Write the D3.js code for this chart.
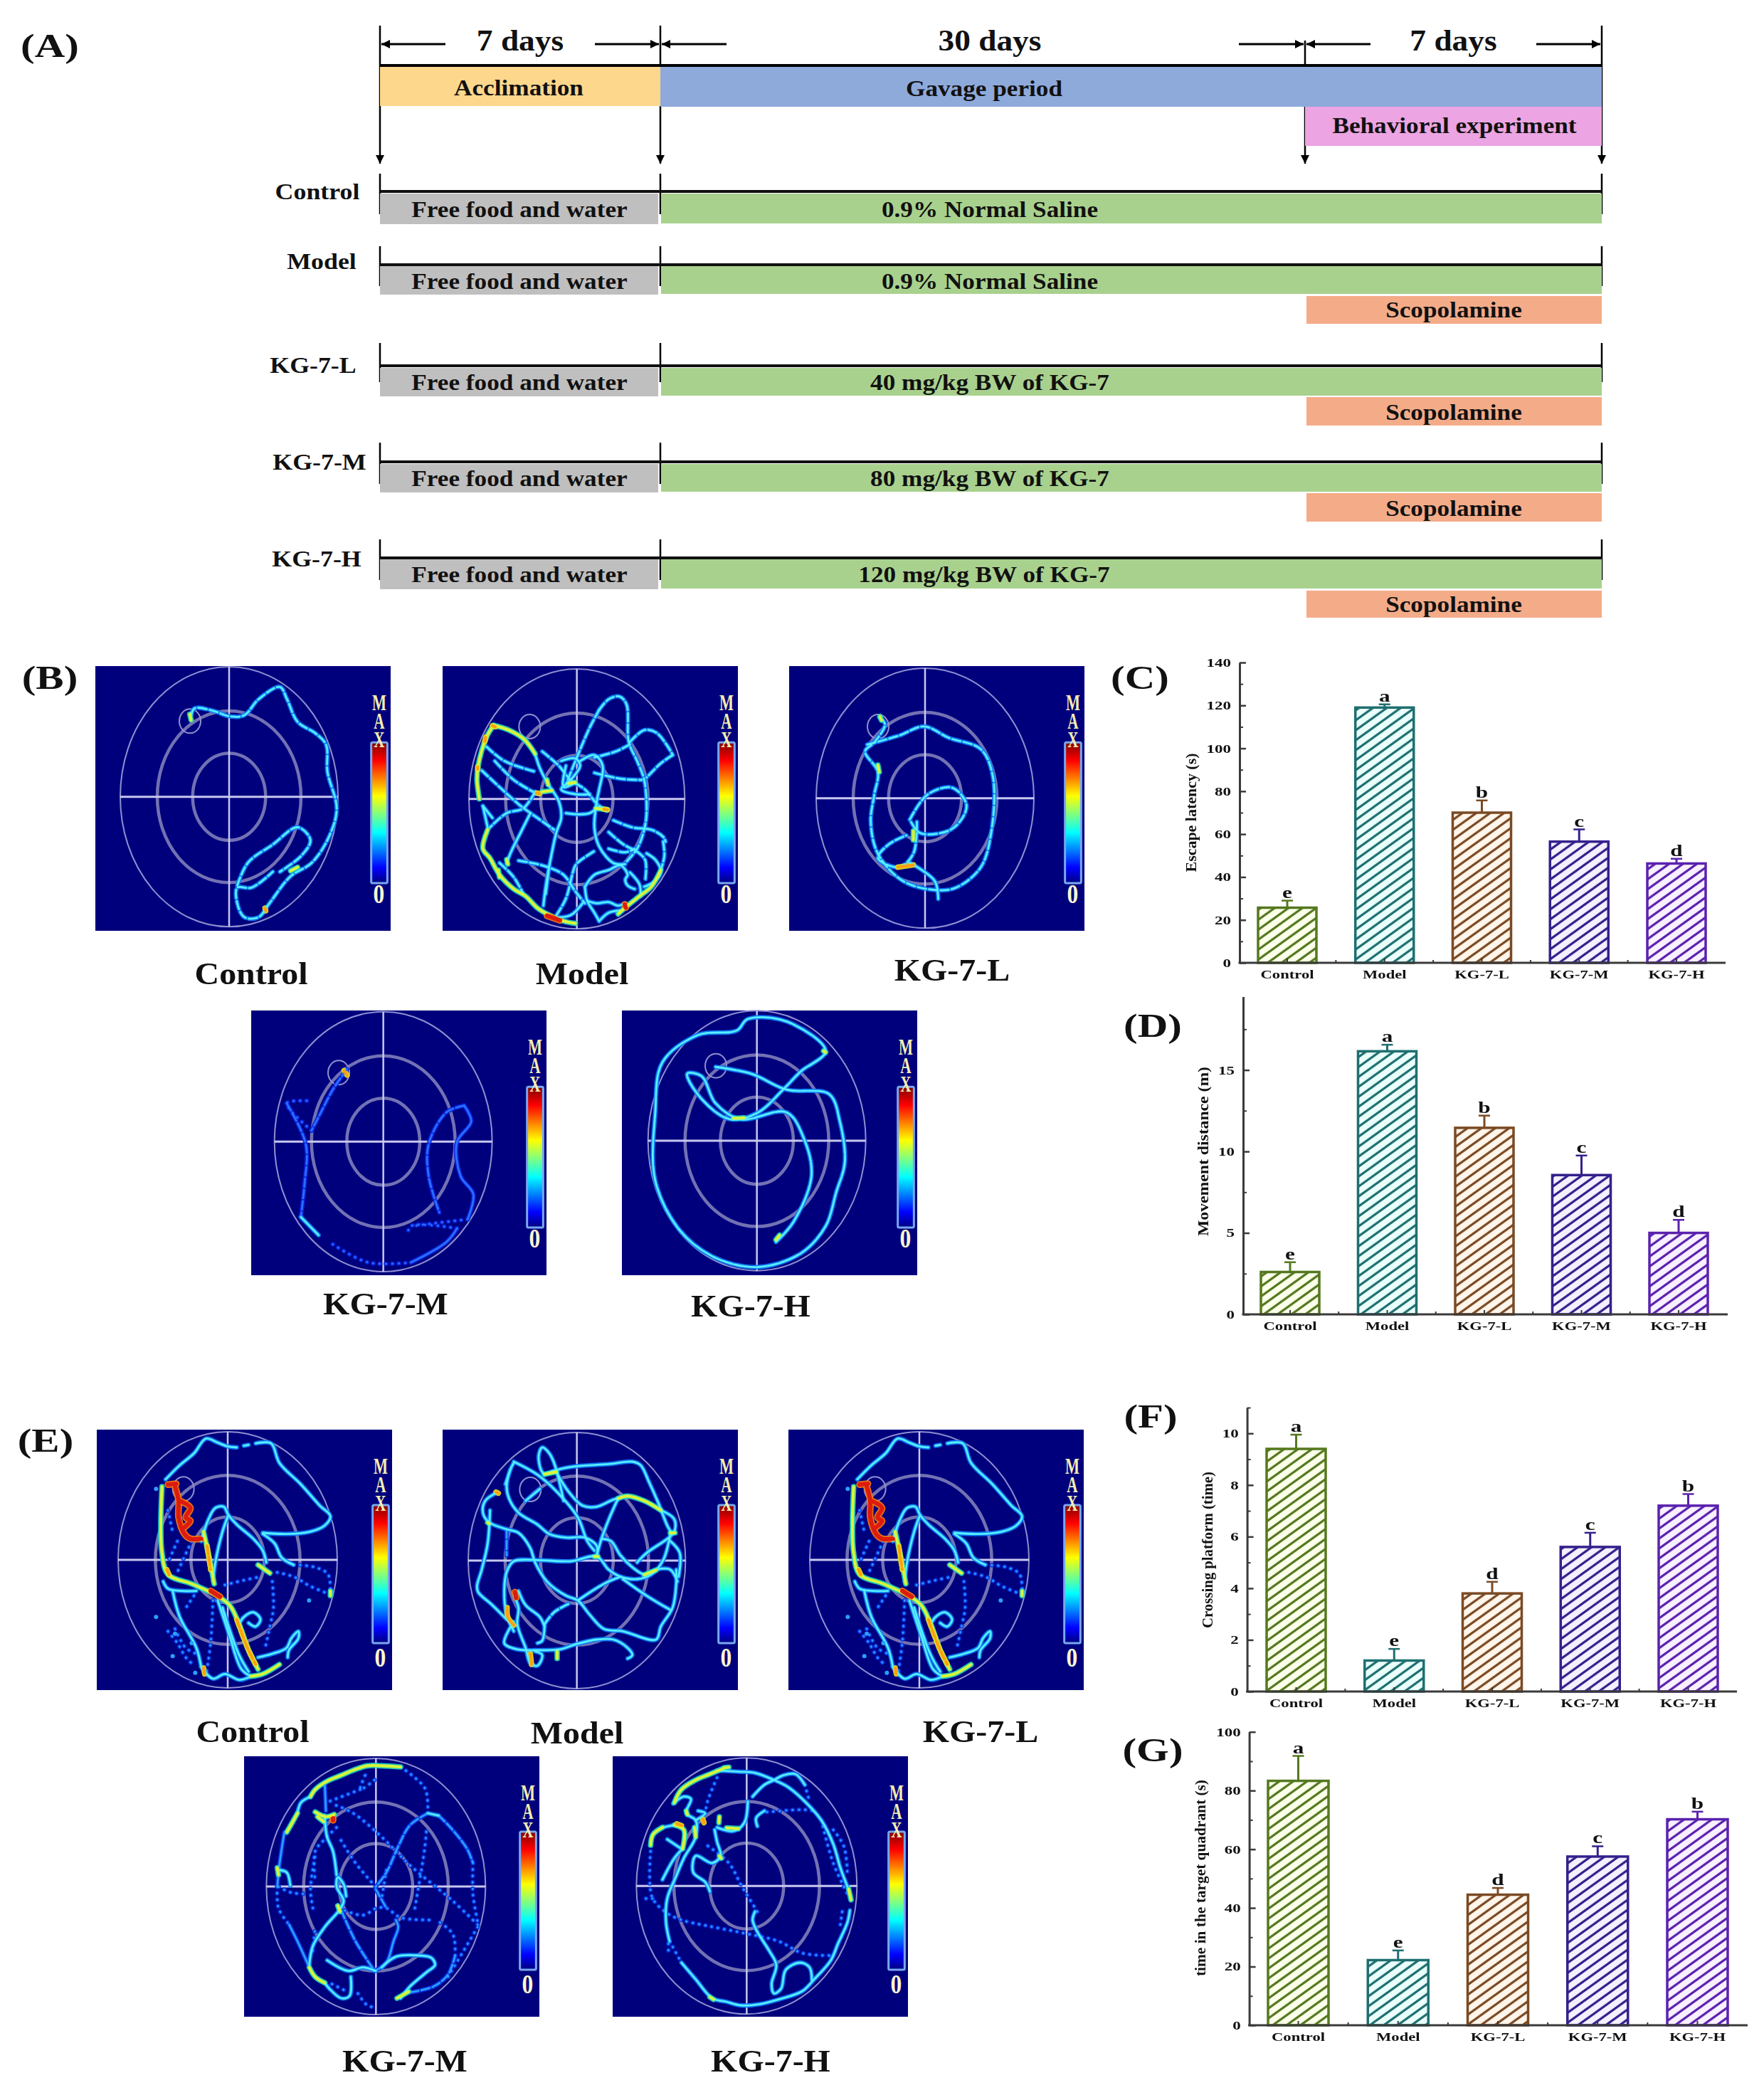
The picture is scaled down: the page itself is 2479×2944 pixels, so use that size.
<!DOCTYPE html>
<html><head><meta charset="utf-8">
<script src="https://cdn.jsdelivr.net/npm/d3@7/dist/d3.min.js"></script>
<style>html,body{margin:0;padding:0;background:#fff}svg{display:block}text{font-family:"Liberation Serif",serif;font-weight:bold;fill:#111}</style>
</head><body><div id="chart"></div>
<script>
// ---------- bar chart data ----------
const groups = ["Control","Model","KG-7-L","KG-7-M","KG-7-H"];
const escapeLatency = [25.7,119,70,56.5,46.3];
const escapeLatencyErr = [29,120.5,75.7,62.2,48.5];
const escapeLetters = ["e","a","b","c","d"];
const moveDistance = [2.6,16.15,11.45,8.55,5.0];
const moveDistanceErr = [3.2,16.55,12.2,9.75,5.8];
const moveLetters = ["e","a","b","c","d"];
const crossing = [9.4,1.2,3.8,5.6,7.2];
const crossingErr = [9.95,1.65,4.25,6.15,7.65];
const crossLetters = ["a","e","d","c","b"];
const quadrant = [83.3,22.2,44.5,57.5,70.2];
const quadrantErr = [91.8,25.5,46.8,61,72.8];
const quadLetters = ["a","e","d","c","b"];
const barColors = ["#55781f","#1f6f70","#7a4a24","#35208c","#5a22ae"];

// ---------- timeline data ----------
const milestones = [0,7,37,44];
const spans = [[0,7,"7 days"],[7,37,"30 days"],[37,44,"7 days"]];
const rowNames = ["Control","Model","KG-7-L","KG-7-M","KG-7-H"];
const rowTreat = ["0.9% Normal Saline","0.9% Normal Saline","40 mg/kg BW of KG-7","80 mg/kg BW of KG-7","120 mg/kg BW of KG-7"];
const rowScop = [false,true,true,true,true];

// ---------- swim track readings: [heat level, dash kind, points] ----------
const trackB1 = [
 [1,1,[[270,165],[275,150],[300,155],[325,168],[345,165],[365,130],[395,103],[405,130],[420,180],[445,205],[460,230],[462,290],[475,370],[465,430],[440,490],[410,520],[380,580],[365,610],[345,610],[335,580],[335,545],[355,545],[385,510]]],
 [1,1,[[335,540],[350,490],[385,450],[420,412],[438,440],[425,475],[395,510]]],
 [2,0,[[268,163],[270,176]]],[2.5,0,[[374,590],[375,596]]],[2,0,[[410,508],[420,500]]]];
const trackB2 = [
 [2,0,[[215,250],[280,270],[345,310],[390,370]]],
 [2,0,[[215,250],[185,300],[150,420],[145,480],[155,560]]],
 [1,0,[[390,370],[410,430],[440,490],[490,570],[500,640],[480,700],[460,790],[435,930],[425,1010]]],
 [1,1,[[660,185],[700,140],[745,128],[775,160],[785,320],[820,400],[850,480],[860,620],[850,690],[820,770],[770,830]]],
 [1,1,[[660,185],[620,260],[560,400],[520,500]]],
 [1,1,[[790,320],[850,270],[900,280],[950,340],[970,375]]],[1,1,[[970,375],[920,410],[860,470]]],
 [1,1,[[790,330],[730,360],[640,385]]],
 [1,0,[[580,400],[640,375],[675,420],[660,520],[650,570],[640,680],[660,760],[720,830],[770,835]]],
 [1,1,[[640,450],[750,475],[840,480]]],
 [1,1,[[420,360],[490,420],[540,480],[600,520],[650,580],[690,610]]],
 [1,1,[[185,340],[260,400],[390,445]]],
 [1,1,[[220,400],[300,480],[400,540]]],
 [1,1,[[165,440],[240,510],[330,590],[400,640],[470,690]]],
 [1,1,[[390,530],[340,600],[270,620],[200,680]]],
 [1,0,[[370,620],[330,700],[290,780],[270,830]]],
 [1,0,[[170,590],[210,640]]],[1,0,[[170,590],[190,680]]],
 [2,0,[[190,690],[170,770],[200,810],[240,880],[300,940],[350,970],[400,1020],[450,1050],[510,1075],[560,1085]]],
 [2,0,[[740,1045],[780,1010],[830,970],[880,930],[920,860]]],
 [1,0,[[660,1075],[700,1040],[750,1030]]],
 [1,0,[[610,990],[650,1000],[700,995],[740,1010],[770,1000]]],
 [1,0,[[600,930],[610,990],[640,1040],[660,1075]]],
 [1,0,[[600,930],[640,880],[700,860],[750,840],[780,880],[770,900],[780,925],[810,940]]],
 [1,0,[[790,870],[830,920],[835,970]]],
 [1,0,[[860,790],[900,820],[920,870],[890,910],[850,930]]],
 [1,1,[[930,740],[935,800],[920,860]]],
 [1,1,[[720,650],[800,680],[880,690],[930,720],[940,740]]],
 [1,1,[[700,700],[760,750],[830,790],[855,820],[855,900]]],
 [1,1,[[700,770],[770,785],[810,770]]],
 [1,1,[[480,1050],[520,980],[560,840],[580,820],[640,780]]],
 [1,1,[[320,820],[400,835],[450,850],[510,880],[560,950],[600,1000]]],
 [1,0,[[450,840],[435,960]]],[1,0,[[470,1060],[540,1050],[590,1000]]],
 [1,0,[[500,400],[560,390],[580,420],[540,480],[500,520],[560,540],[620,540]]],
 [1,0,[[520,420],[510,510],[560,490]]],
 [1,0,[[520,620],[570,625],[620,620],[660,590]]],
 [1,1,[[240,830],[300,890],[340,960]]],
 [2,0,[[420,530],[460,525]]],[2,0,[[530,495],[560,490]]],[2,0,[[645,600],[695,605]]],[2,0,[[270,815],[275,835]]],[2,0,[[235,860],[240,890]]],[2,0,[[440,480],[445,500]]],
 [2.5,0,[[395,535],[408,538]]],[3,0,[[440,1052],[495,1072]]],[3,0,[[768,1005],[772,1018]]],[2.5,0,[[210,252],[222,256]]],[2.5,0,[[182,300],[178,318]]],[2.5,0,[[148,425],[148,435]]],[2.5,0,[[680,603],[695,606]]]];
const trackB3 = [
 [1,1,[[1242,170],[1250,185],[1235,225],[1222,245],[1240,290],[1235,340],[1230,400],[1240,470],[1275,530],[1320,550],[1350,545],[1385,500],[1400,420],[1402,300],[1385,240],[1340,215],[1305,190],[1270,210],[1225,230]]],
 [1,1,[[1285,395],[1310,340],[1345,325],[1365,365],[1345,415],[1300,425],[1285,395]]],
 [1,1,[[1295,400],[1290,470],[1270,500],[1240,480],[1255,450],[1280,430]]],
 [1,0,[[1285,490],[1320,530],[1325,570]]],
 [2.5,0,[[1268,500],[1290,495]]],[2,0,[[1240,275],[1242,290]]],[2,0,[[1290,420],[1290,440]]],[2,0,[[1243,168],[1245,176]]]];
const trackB4 = [
 [0,1,[[490,945],[470,990],[450,1050],[440,1080]]],
 [0,2,[[440,1080],[405,1020],[440,1015]]],
 [0,1,[[405,1020],[432,1110],[430,1200],[425,1270]]],
 [1,0,[[425,1270],[450,1310]]],
 [0,2,[[470,1330],[520,1370],[580,1370]]],
 [0,0,[[580,1370],[630,1325],[645,1295]]],
 [0,2,[[645,1295],[580,1290],[575,1310]]],[0,2,[[660,1275],[580,1290]]],
 [0,0,[[660,1275],[668,1220],[650,1180],[645,1105],[665,1060],[655,1025]]],
 [0,1,[[655,1025],[630,1040],[605,1110],[605,1180],[620,1260]]],
 [2.5,0,[[486,948],[490,958]]]];
const trackB5 = [
 [1,3,[[1010,940],[1060,955],[1110,990],[1170,1000],[1185,1060],[1192,1150],[1180,1215],[1165,1290],[1130,1350],[1070,1380],[1010,1360],[960,1300],[925,1190],[925,1040],[935,930],[985,870],[1040,860],[1055,835],[1110,840],[1165,905],[1130,950],[1105,990],[1070,1040],[1030,1055],[990,1010],[970,955],[990,960],[1010,1020],[1045,1055],[1110,1040],[1135,1100],[1145,1180],[1120,1280],[1095,1325]]],
 [2,0,[[1035,1053],[1050,1052]]],[2,0,[[1162,905],[1165,908]]],[2,0,[[1095,1320],[1100,1310]]]];
const trackE1 = [
 [1,0,[[290,210],[350,150],[410,100],[460,38],[510,55],[550,70],[590,75]]],
 [1,1,[[620,68],[640,64]]],
 [1,0,[[670,58],[735,58],[770,140],[860,230],[940,320],[985,365],[960,405],[900,430],[800,440],[700,435]]],
 [1,0,[[700,440],[750,480],[780,540],[830,570]]],[0.5,2,[[830,570],[920,580],[975,610],[985,690]]],
 [0.5,2,[[985,695],[900,660],[830,620],[750,600]]],
 [0.5,2,[[540,655],[620,635],[690,620]]],
 [0.5,2,[[740,640],[745,750],[730,830],[710,920]]],
 [1,0,[[440,470],[470,380],[500,330],[535,325],[555,360],[590,400],[660,460],[700,510],[715,560]]],
 [1,0,[[555,360],[530,430],[500,560],[490,640]]],
 [2,0,[[275,240],[270,400],[275,520],[300,610],[400,650],[490,690]]],
 [2,0,[[490,690],[560,740],[600,820],[640,930],[680,1010]]],
 [2,0,[[450,430],[470,520],[495,650]]],
 [1,0,[[280,640],[300,670],[360,680],[420,680]]],
 [1,0,[[320,680],[350,790],[420,920],[440,1000]]],
 [0.5,2,[[490,720],[480,900],[460,1040]]],
 [1,0,[[510,720],[560,870],[610,1010],[650,1040]]],
 [2,0,[[650,1040],[700,1030],[770,990]]],
 [1,0,[[530,750],[600,950],[640,1020]]],
 [1,0,[[640,1045],[600,1055],[540,1030],[490,1050],[440,1000]]],
 [1,0,[[600,820],[620,790],[660,770],[690,800],[670,830],[640,815]]],
 [1,0,[[680,960],[740,945],[800,920],[820,880],[850,850],[850,880],[810,930],[805,960]]],
 [0.5,2,[[340,470],[300,560]]],[0.5,2,[[400,470],[340,600]]],[0.5,2,[[300,340],[320,430]]],[0.5,2,[[410,700],[370,760]]],
 [0.5,2,[[300,850],[340,900],[375,960],[400,985]]],[0.5,2,[[330,840],[375,920],[420,945]]],
 [2,0,[[680,570],[730,605]]],[2,0,[[985,680],[985,700]]],
 [3,0,[[300,232],[335,228]]],
 [3,0,[[330,240],[345,300],[345,370],[370,440],[395,460],[440,460]]],
 [3,0,[[350,300],[395,330],[375,370],[395,385],[365,415]]],
 [3,0,[[480,680],[520,705]]],
 [2.5,1,[[590,800],[640,930],[670,990]]],[2.5,0,[[450,1005],[455,1030]]],[2.5,1,[[465,490],[480,590]]],[2.5,0,[[295,590],[305,612]]]];
const dotsE1 = [[250,250],[250,790],[320,955],[400,900],[415,1025],[895,720],[330,860]];
const trackE2 = [
 [1,0,[[430,190],[415,170],[405,110],[420,75],[450,100],[470,140],[490,210],[510,300]]],
 [1,0,[[440,185],[480,170],[560,155],[700,145],[800,135],[835,150],[870,220],[910,310],[950,410],[970,440]]],
 [1,0,[[300,135],[400,190],[480,260],[570,370],[610,470],[640,510]]],
 [1,0,[[285,170],[265,230]]],
 [1,0,[[230,265],[180,300],[170,350],[195,390],[270,420],[320,435],[370,500],[390,560],[440,640],[520,700],[570,720],[620,780],[680,840],[760,850],[900,885],[920,830],[970,750],[985,650],[985,590]]],
 [1,0,[[300,140],[285,170],[270,240],[280,290],[320,350],[400,400],[450,440],[520,455],[600,455],[650,490],[650,530]]],
 [1,0,[[410,250],[350,300]]],
 [1,0,[[480,180],[530,260],[590,320],[650,325],[720,295],[780,280]]],
 [2,0,[[740,290],[780,280],[850,300],[920,340]]],
 [1,0,[[920,340],[975,375],[980,420],[960,450],[860,520],[820,560]]],
 [1,0,[[740,290],[700,380],[670,460],[650,530]]],
 [1,0,[[670,460],[710,470],[750,530],[800,580],[850,610],[900,590],[960,590],[990,640]]],
 [1,0,[[960,440],[930,550],[880,610],[820,630],[750,620],[700,590],[650,535],[540,555],[400,550],[300,555],[270,600],[260,680],[270,780],[300,850]]],
 [1,0,[[960,470],[1000,520],[995,620]]],
 [1,0,[[760,630],[860,700],[960,760]]],
 [1,0,[[570,720],[680,650],[750,620]]],
 [1,1,[[530,735],[470,770],[430,820]]],
 [1,0,[[430,820],[420,890],[400,900]]],[1,0,[[320,680],[350,740],[410,790],[430,830]]],
 [1,0,[[200,340],[190,480],[165,590],[145,660],[150,685],[210,740],[270,800]]],
 [1,0,[[300,810],[260,900],[310,925],[400,930],[500,925],[560,905],[650,885],[720,885],[780,920],[800,950],[780,965]]],
 [1,0,[[300,700],[320,750],[315,820],[350,920],[370,985],[400,995],[420,950],[390,935]]],
 [0.5,1,[[270,420],[270,530]]],
 [3,0,[[305,685],[310,710]]],[2.5,0,[[272,750],[275,790],[300,825]]],
 [2.5,0,[[370,945],[375,990]]],[2,0,[[483,935],[483,965]]],[2.5,0,[[225,263],[235,268]]],
 [2,0,[[640,535],[655,535]]],[2,0,[[430,188],[480,178]]],[2,0,[[190,392],[196,396]]],[2,0,[[960,435],[980,435]]],[2,0,[[850,612],[900,592]]]];
const trackE4 = [
 [2,0,[[180,320],[200,285],[225,240]]],[1,0,[[225,240],[240,195],[280,170]]],
 [2,0,[[280,170],[300,140],[350,105],[410,80],[470,55],[520,40],[580,40],[660,45]]],
 [0.5,2,[[660,45],[720,90],[765,140],[775,230]]],
 [1,0,[[775,240],[820,250]]],[0.5,1,[[820,250],[870,300],[940,390],[965,450]]],[0.5,2,[[965,450],[965,580],[985,700]]],
 [0.5,2,[[985,710],[880,610],[700,460],[580,340],[460,240],[370,200]]],
 [0.5,1,[[775,240],[700,290],[650,380],[600,490],[555,550]]],
 [0.5,0,[[170,320],[150,450],[140,550]]],[0.5,2,[[140,550],[145,640],[190,710]]],[0.5,0,[[190,710],[230,790],[275,890]]],
 [2,0,[[275,890],[300,930],[340,955]]],[1,0,[[340,955],[360,980],[410,1020],[445,1010],[450,930]]],
 [1,0,[[275,880],[290,800],[340,720],[400,650],[420,610],[390,550],[395,510],[420,540],[430,590]]],
 [1,0,[[390,500],[375,400],[350,340],[340,250]]],
 [0.5,0,[[340,110],[345,230]]],
 [0.5,2,[[390,300],[340,350],[300,400],[300,530]]],
 [0.5,2,[[400,640],[500,670],[560,640],[600,640],[660,680],[800,690]]],
 [0.5,2,[[555,550],[470,450],[400,340]]],
 [0.5,1,[[410,650],[470,780],[550,905]]],[0.5,0,[[550,905],[600,870],[630,780],[650,720],[640,690]]],
 [1,0,[[555,905],[500,890],[440,905],[350,860]]],
 [1,0,[[580,890],[640,845],[740,840],[790,850],[805,880],[770,910],[700,970],[660,1020]]],
 [0.5,1,[[700,995],[800,970],[860,920],[890,840]]],[0.5,2,[[890,840],[880,750],[810,690]]],
 [0.5,2,[[860,930],[985,720]]],[0.5,2,[[145,550],[200,575],[260,580]]],[1,0,[[150,480],[180,490],[195,545]]],
 [0.5,2,[[290,640],[280,560],[300,420]]],[0.5,2,[[290,820],[300,720]]],[0.5,2,[[480,1000],[520,1050],[560,1060]]],[0.5,2,[[370,960],[430,990]]],
 [0.5,1,[[555,560],[600,640]]],[0.5,2,[[600,480],[580,600]]],[0.5,2,[[490,140],[360,190]]],[0.5,2,[[550,100],[490,140],[520,60]]],[0.5,2,[[720,640],[760,400],[770,300]]],
 [2,0,[[645,1020],[695,992]]],[2,0,[[140,470],[145,500]]],[2,0,[[395,630],[405,655]]],
 [2,0,[[300,235],[345,255],[380,245]]],[2,0,[[310,255],[335,275]]],[3,0,[[375,262],[375,270]]]];
const trackE5 = [
 [1,0,[[440,60],[530,65],[600,70],[680,100],[740,130],[820,200],[880,270],[930,370],[960,470],[990,550]]],
 [2,0,[[995,560],[1005,605]]],
 [1,0,[[590,170],[640,120],[680,100],[720,80],[770,75],[810,120]]],[0.5,2,[[810,120],[830,190]]],
 [2,0,[[260,195],[290,140],[350,100],[410,75],[470,50]]],
 [0.5,2,[[440,90],[400,190],[390,240]]],
 [1,0,[[570,190],[555,280],[510,315],[440,300]]],[2,0,[[480,302],[530,305]]],
 [2,0,[[160,375],[170,330],[210,300]]],[1,0,[[210,300],[260,290]]],[2,0,[[260,290],[300,310],[295,390]]],[1,0,[[295,390],[260,430],[210,520]]],
 [1,0,[[255,200],[300,170],[330,180],[310,240],[350,270],[350,340],[300,430],[270,500],[230,600],[225,700],[240,780]]],[0.5,2,[[240,780],[290,870]]],
 [1,0,[[290,870],[350,940],[420,1020],[480,1035],[540,1050],[620,1045],[700,1025],[800,990],[850,940],[920,860],[950,790],[990,700],[1000,650]]],
 [1,0,[[230,350],[260,370],[290,390]]],
 [1,0,[[430,310],[440,360],[455,420],[420,450],[350,420],[340,490],[390,530],[410,570]]],
 [1,0,[[350,270],[390,240],[360,230]]],
 [1,0,[[640,230],[605,260],[610,295]]],[0.5,2,[[650,235],[800,225],[850,230]]],
 [0.5,2,[[160,400],[165,590],[220,655],[290,690],[400,715],[550,745],[700,780],[800,830],[920,840]]],
 [0.5,2,[[140,600],[170,600]]],[0.5,2,[[235,790],[235,820]]],
 [1,0,[[600,655],[590,690],[610,740],[660,820],[690,880],[670,960],[680,1000],[710,980],[730,900],[790,870],[830,890],[840,945]]],
 [0.5,2,[[610,655],[570,590],[540,540],[490,450],[390,370]]],
 [0.5,2,[[930,310],[975,380],[990,500]]],[0.5,2,[[960,710],[970,640]]],[0.5,2,[[880,270],[930,450],[1000,600]]],
 [2,0,[[450,255],[448,280]]],[2,0,[[450,420],[458,430]]],[2,0,[[410,1015],[425,1025]]],
 [2.5,0,[[270,285],[290,292]]],[2.5,0,[[380,265],[385,280]]],[2,0,[[345,300],[350,340]]],[2,0,[[470,48],[490,46]]],[2,0,[[310,230],[315,245]]]];

// ---------- layout ----------
const W = 2479, H = 2944;
const svg = d3.select("#chart").append("svg").attr("width",W).attr("height",H).attr("viewBox",`0 0 ${W} ${H}`);
svg.append("rect").attr("width",W).attr("height",H).attr("fill","#fff");
const defs = svg.append("defs");

function stretch(sel,h){ sel.each(function(){const n=this;const w=n.getComputedTextLength();d3.select(n).attr("textLength",w*h).attr("lengthAdjust","spacingAndGlyphs");}); return sel; }
function label(g,str,x,y,size,h,anchor){
  const t=g.append("text").attr("x",x).attr("y",y).attr("font-size",size).attr("text-anchor",anchor||"middle").text(str);
  if(h) stretch(t,h); return t;
}

// panel letters
[["(A)",70,80],["(B)",70,968],["(C)",1602,968],["(D)",1620,1457],["(E)",64,2040],["(F)",1617,2006],["(G)",1620,2475]]
 .forEach(d=>label(svg,d[0],d[1],d[2],46,1.28));

// ---------- (A) timeline ----------
const tx = d3.scaleOrdinal().domain(milestones).range([534,928,1834,2251]);
const tl = svg.append("g");
defs.append("marker").attr("id","ah").attr("viewBox","0 0 10 10").attr("refX",10).attr("refY",5)
 .attr("orient","auto-start-reverse").attr("markerUnits","userSpaceOnUse")
 .attr("markerWidth",12).attr("markerHeight",13)
 .append("path").attr("d","M0,0L10,5L0,10Z").attr("fill","#000");
const vline=(x,y1,y2,m)=>{const l=tl.append("line").attr("x1",x).attr("x2",x).attr("y1",y1).attr("y2",y2).attr("stroke","#000").attr("stroke-width",2.5); if(m) l.attr("marker-end","url(#ah)");};
milestones.forEach(d=>vline(tx(d), d===37?57:36, 230, true));
spans.forEach(s=>{
  const a=tx(s[0]),b=tx(s[1]),c=(a+b)/2;
  label(tl,s[2],s[1]===37?1391:c,71,42,1.08);
  const tw=s[1]===37?93:92;
  [[a+2,a+tw],[b-2,b-tw]].forEach(p=>tl.append("line").attr("x1",p[1]).attr("x2",p[0]).attr("y1",62).attr("y2",62)
    .attr("stroke","#000").attr("stroke-width",3).attr("marker-end","url(#ah)"));
});
const bar=(x1,x2,y1,y2,c)=>tl.append("rect").attr("x",x1).attr("width",x2-x1).attr("y",y1).attr("height",y2-y1).attr("fill",c);
bar(tx(0),tx(7),94,149,"#fdd78c"); bar(tx(7),tx(44),94,150,"#8eaadb"); bar(tx(37),tx(44),150,205,"#eca4e2");
tl.append("line").attr("x1",tx(0)).attr("x2",tx(44)).attr("y1",92).attr("y2",92).attr("stroke","#000").attr("stroke-width",4);
label(tl,"Acclimation",729,134,32,1.1); label(tl,"Gavage period",1383,135,32,1.1); label(tl,"Behavioral experiment",2044,187,32,1.1);
const rowY = d3.scaleOrdinal().domain(rowNames).range([
 {t:244,b:301,l:269,g1:272,g2:315,c:295,s1:null,name:446,ny:280},
 {t:346,b:402,l:372,g1:374,g2:414,c:396,s1:416,s2:455,sc:436,name:452,ny:378},
 {t:482,b:537,l:514,g1:517,g2:557,c:538,s1:558,s2:598,sc:580,name:440,ny:524},
 {t:622,b:680,l:649,g1:652,g2:692,c:673,s1:693,s2:733,sc:715,name:449,ny:660},
 {t:758,b:815,l:784,g1:786,g2:828,c:808,s1:830,s2:868,sc:850,name:445,ny:796}]);
rowNames.forEach((n,i)=>{
  const r=rowY(n);
  [0,7,44].forEach(d=>vline(tx(d),r.t,r.b));
  bar(tx(0),tx(7)-3,r.g1,r.g2,"#bfbfbf"); bar(tx(7)+1,tx(44),r.g1,r.g2-1,"#a9d18e");
  tl.append("line").attr("x1",tx(0)).attr("x2",tx(44)).attr("y1",r.l).attr("y2",r.l).attr("stroke","#111").attr("stroke-width",4);
  if(rowScop[i]){ bar(tx(37)+2,tx(44),r.s1,r.s2,"#f4ab88"); label(tl,"Scopolamine",2043,r.sc+10,32,1.1); }
  label(tl,"Free food and water",730,r.c+10,32,1.1);
  label(tl,rowTreat[i],i===4?1383:1391,r.c+10,32,1.1);
  label(tl,n,r.name,r.ny,32,1.12);
});

// ---------- water-maze panels ----------
const jetStops=[[0,"#00007f"],[.11,"#0000ff"],[.36,"#00ffff"],[.62,"#ffff00"],[.87,"#ff0000"],[1,"#7f0000"]];
const grad=defs.append("linearGradient").attr("id","jet").attr("x1",0).attr("x2",0).attr("y1",1).attr("y2",0);
jetStops.forEach(s=>grad.append("stop").attr("offset",s[0]).attr("stop-color",s[1]));
const soft=defs.append("filter").attr("id","soft").attr("x","-5%").attr("y","-5%").attr("width","110%").attr("height","110%");
soft.append("feGaussianBlur").attr("stdDeviation",0.7);

const heat=d3.scaleLinear().domain([0,0.5,1,2,2.5,3]).range(["#2a70ff","#2aa0ff","#58eeff","#d8f53a","#ffa010","#dc1a08"]);
const halo=d3.scaleLinear().domain([0,0.5,1,2,2.5,3]).range(["#0824e0","#0834e8","#0a7ef8","#20d8c0","#e8e020","#ff7a10"]);

const panels=[
 {x:134,y:936,h:372,tr:trackB1,read:[135,551,57,640],c:[564,551],rx:459,ry:548,p:[399,232]},
 {x:622,y:936,h:372,tr:trackB2,read:[0,1245,0,1116],c:[566,560],rx:455,ry:548,p:[367,255]},
 {x:1109,y:936,h:372,tr:trackB3,read:[1115,1531,57,640],c:[573,557],rx:459,ry:548,p:[375,255]},
 {x:353,y:1420,h:372,tr:trackB4,read:[355,771,816,1398],c:[557,553],rx:459,ry:548,p:[369,262]},
 {x:874,y:1420,h:372,tr:trackB5,read:[878,1294,816,1398],c:[569,549],rx:459,ry:548,p:[396,233]},
 {x:136,y:2009,h:366,tr:trackE1,dots:dotsE1,read:[0,1245,0,1098],c:[552,549],rx:462,ry:540,p:[365,250]},
 {x:622,y:2009,h:366,tr:trackE2,read:[0,1245,0,1098],c:[566,552],rx:458,ry:540,p:[370,252]},
 {x:1108,y:2009,h:366,tr:trackE1,dots:dotsE1,read:[0,1245,0,1098],c:[552,549],rx:462,ry:540,p:[365,250]},
 {x:343,y:2468,h:366,tr:trackE4,read:[0,1245,0,1098],c:[556,549],rx:462,ry:540,p:null},
 {x:861,y:2468,h:366,tr:trackE5,read:[0,1245,0,1098],c:[565,547],rx:465,ry:540,p:null}
];
const ringRatio=[1,0.66,0.335];
const lineGen=d3.line().curve(d3.curveCatmullRom.alpha(0.5));
panels.forEach(p=>{
  const g=svg.append("g").attr("transform",`translate(${p.x},${p.y})`);
  const pw=415, ph=p.h;
  const ux=d3.scaleLinear().domain([0,1245]).range([0,pw]);
  const uy=d3.scaleLinear().domain([0,ph*3]).range([0,ph]);
  g.append("rect").attr("width",pw).attr("height",ph).attr("fill","#00007d");
  ringRatio.forEach((r,i)=>g.append("ellipse").attr("cx",ux(p.c[0])).attr("cy",uy(p.c[1]))
    .attr("rx",ux(p.rx*r)).attr("ry",uy(p.ry*r)).attr("fill","none")
    .attr("stroke",i?"#7272b4":"#8f8fd2").attr("stroke-width",i?4.5:2));
  if(p.p) g.append("ellipse").attr("cx",ux(p.p[0])).attr("cy",uy(p.p[1])).attr("rx",15).attr("ry",17)
    .attr("fill","none").attr("stroke","#8f8fd0").attr("stroke-width",2);
  g.append("line").attr("x1",ux(p.c[0]-p.rx)).attr("x2",ux(p.c[0]+p.rx)).attr("y1",uy(p.c[1])).attr("y2",uy(p.c[1])).attr("stroke","#c8c8f0").attr("stroke-width",3);
  g.append("line").attr("x1",ux(p.c[0])).attr("x2",ux(p.c[0])).attr("y1",uy(p.c[1]-p.ry)).attr("y2",uy(p.c[1]+p.ry)).attr("stroke","#c8c8f0").attr("stroke-width",2.5);
  // tracks
  const sx=d3.scaleLinear().domain(p.read.slice(0,2)).range([0,pw]);
  const sy=d3.scaleLinear().domain(p.read.slice(2,4)).range([0,ph]);
  const path=lineGen.x(d=>sx(d[0])).y(d=>sy(d[1]));
  const tg=g.append("g").attr("filter","url(#soft)").attr("fill","none").attr("stroke-linecap","round").attr("stroke-linejoin","round");
  const dash=[null,"12 4","0.5 8.5","30 2"];
  const sorted=p.tr.slice().sort((a,b)=>a[0]-b[0]);
  const wid=l=>l>=3?6:l>=2?4.2:2.8;
  sorted.forEach(t=>{
    tg.append("path").attr("d",path(t[2])).attr("stroke",halo(t[0])).attr("stroke-width",wid(t[0])+3.5).attr("stroke-dasharray",dash[t[1]]).attr("opacity",.9);
  });
  sorted.forEach(t=>{
    tg.append("path").attr("d",path(t[2])).attr("stroke",heat(t[0])).attr("stroke-width",wid(t[0])).attr("stroke-dasharray",dash[t[1]]);
  });
  (p.dots||[]).forEach(d=>tg.append("circle").attr("cx",sx(d[0])).attr("cy",sy(d[1])).attr("r",3).attr("fill",heat(.5)).attr("stroke","none"));
  // colour bar
  const cbTop=ph===372?322:318, cbBot=ph===372?915:900;
  g.append("rect").attr("x",ux(1163)).attr("y",uy(cbTop)).attr("width",ux(68)).attr("height",uy(cbBot-cbTop))
    .attr("fill","url(#jet)").attr("stroke","#78a8f0").attr("stroke-width",3).attr("rx",2);
  g.append("text").attr("transform",`translate(${ux(1197)},${uy(100)}) scale(0.66,1)`)
    .style("writing-mode","vertical-rl").style("text-orientation","upright").style("fill","#f5eeb0")
    .style("letter-spacing","-9px").attr("font-size",32).text("MAX");
  const z=label(g,"0",ux(1195),uy(960)+13,37,.85); z.style("fill","#fbf6d0");
});
// panel captions
[["Control",353,1383],["Model",818,1383],["KG-7-L",1338,1378],["KG-7-M",542,1847],["KG-7-H",1055,1850],
 ["Control",355,2448],["Model",811,2450],["KG-7-L",1378,2448],["KG-7-M",569,2911],["KG-7-H",1083,2911]]
 .forEach(d=>label(svg,d[0],d[1],d[2],44,1.09));

// ---------- hatch patterns ----------
const tints=["#fbffea","#eafffb","#fff5ea","#f4f0ff","#f8f0ff"];
barColors.forEach((c,i)=>{
  const w=19.5,h=14;
  const pt=defs.append("pattern").attr("id","hatch"+i).attr("patternUnits","userSpaceOnUse").attr("width",w).attr("height",h);
  pt.append("rect").attr("width",w).attr("height",h).attr("fill",tints[i]);
  pt.append("path").attr("d",[-w,0,w].map(o=>`M${o-w},${2*h}L${o+2*w},${-h}`).join(""))
    .attr("stroke",c).attr("stroke-width",3.2);
});

// ---------- bar charts ----------
function barChart(o){
  const g=svg.append("g");
  const step=(o.barR-o.barL-o.barW)/(groups.length-1);
  const x=d3.scaleBand().domain(groups).range([o.barL,o.barR]).paddingInner(1-o.barW/step).paddingOuter(0);
  const y=d3.scaleLinear().domain([0,o.top]).range([o.y0,o.yTop]);
  const axisColor="#3a3a3a";
  g.selectAll("rect.bar").data(groups).join("rect").attr("class","bar")
    .attr("x",d=>x(d)).attr("width",x.bandwidth()).attr("y",(d,i)=>y(o.vals[i])).attr("height",(d,i)=>o.y0-y(o.vals[i]))
    .attr("fill",(d,i)=>`url(#hatch${i})`).attr("stroke",(d,i)=>barColors[i]).attr("stroke-width",3.5);
  groups.forEach((d,i)=>{
    const cx=x(d)+x.bandwidth()/2, c=barColors[i];
    g.append("line").attr("x1",cx).attr("x2",cx).attr("y1",y(o.vals[i])).attr("y2",y(o.err[i])).attr("stroke",c).attr("stroke-width",3);
    g.append("line").attr("x1",cx-8).attr("x2",cx+8).attr("y1",y(o.err[i])).attr("y2",y(o.err[i])).attr("stroke",c).attr("stroke-width",2.5);
    label(g,o.letters[i],cx,y(o.err[i])-4,24,1.3);
  });
  const ax=g.append("g").attr("transform",`translate(${o.x0},0)`).call(
    d3.axisLeft(y).tickValues(o.ticks).tickSizeInner(-9).tickSizeOuter(0).tickPadding(12).tickFormat(d3.format("d")));
  ax.select(".domain").attr("stroke",axisColor).attr("stroke-width",3);
  ax.selectAll(".tick line").attr("stroke",axisColor).attr("stroke-width",2.5);
  ax.selectAll(".tick text").attr("font-size",17).attr("font-family",null).attr("font-weight","bold").attr("fill",null).each(function(){stretch(d3.select(this),1.35);});
  const ax2=g.append("g").attr("transform",`translate(${o.x0},0)`).call(
    d3.axisLeft(y).tickValues(o.minor).tickSizeInner(-5).tickSizeOuter(0).tickFormat(""));
  ax2.select(".domain").remove();
  ax2.selectAll(".tick line").attr("stroke",axisColor).attr("stroke-width",2);
  g.append("line").attr("x1",o.x0-1.5).attr("x2",o.xEnd).attr("y1",o.y0).attr("y2",o.y0).attr("stroke",axisColor).attr("stroke-width",3);
  const bx=g.append("g").attr("transform",`translate(0,${o.y0})`).call(
    d3.axisBottom(x).tickSizeInner(-6).tickSizeOuter(0).tickPadding(10));
  bx.select(".domain").remove();
  bx.selectAll(".tick line").attr("stroke",axisColor).attr("stroke-width",2);
  bx.selectAll(".tick text").attr("font-size",17).attr("font-family",null).attr("font-weight","bold").attr("fill",null).each(function(){stretch(d3.select(this),1.33);});
  groups.slice(1).forEach(d=>{
    const mx=x(d)-(step-x.bandwidth())/2;
    g.append("line").attr("x1",mx).attr("x2",mx).attr("y1",o.y0).attr("y2",o.y0-4).attr("stroke",axisColor).attr("stroke-width",2);
  });
  const t=g.append("text").attr("transform",`translate(${o.tx},${o.ty}) rotate(-90)`).attr("text-anchor","middle")
    .attr("dy","0.33em").attr("font-size",20).text(o.title);
  t.attr("textLength",o.tl).attr("lengthAdjust","spacingAndGlyphs");
}
barChart({vals:escapeLatency,err:escapeLatencyErr,letters:escapeLetters,top:140,y0:1353,yTop:931,x0:1742,xEnd:2425,barL:1768,barR:2397,barW:82,
  ticks:[0,20,40,60,80,100,120,140],minor:[10,30,50,70,90,110,130],title:"Escape latency (s)",tx:1674,ty:1142,tl:167});
barChart({vals:moveDistance,err:moveDistanceErr,letters:moveLetters,top:19.5,y0:1847,yTop:1400.6,x0:1747,xEnd:2428,barL:1772,barR:2400,barW:82,
  ticks:[0,5,10,15],minor:[2.5,7.5,12.5,17.5],title:"Movement distance (m)",tx:1691,ty:1618,tl:238});
barChart({vals:crossing,err:crossingErr,letters:crossLetters,top:11,y0:2377,yTop:1978,x0:1752.6,xEnd:2441,barL:1780,barR:2414,barW:83,
  ticks:[0,2,4,6,8,10],minor:[1,3,5,7,9,11],title:"Crossing platform (time)",tx:1697,ty:2178,tl:220});
barChart({vals:quadrant,err:quadrantErr,letters:quadLetters,top:100,y0:2846,yTop:2433.7,x0:1755.6,xEnd:2456,barL:1782,barR:2428,barW:85,
  ticks:[0,20,40,60,80,100],minor:[10,30,50,70,90],title:"time in the target quadrant (s)",tx:1687,ty:2639,tl:276});
</script></body></html>
